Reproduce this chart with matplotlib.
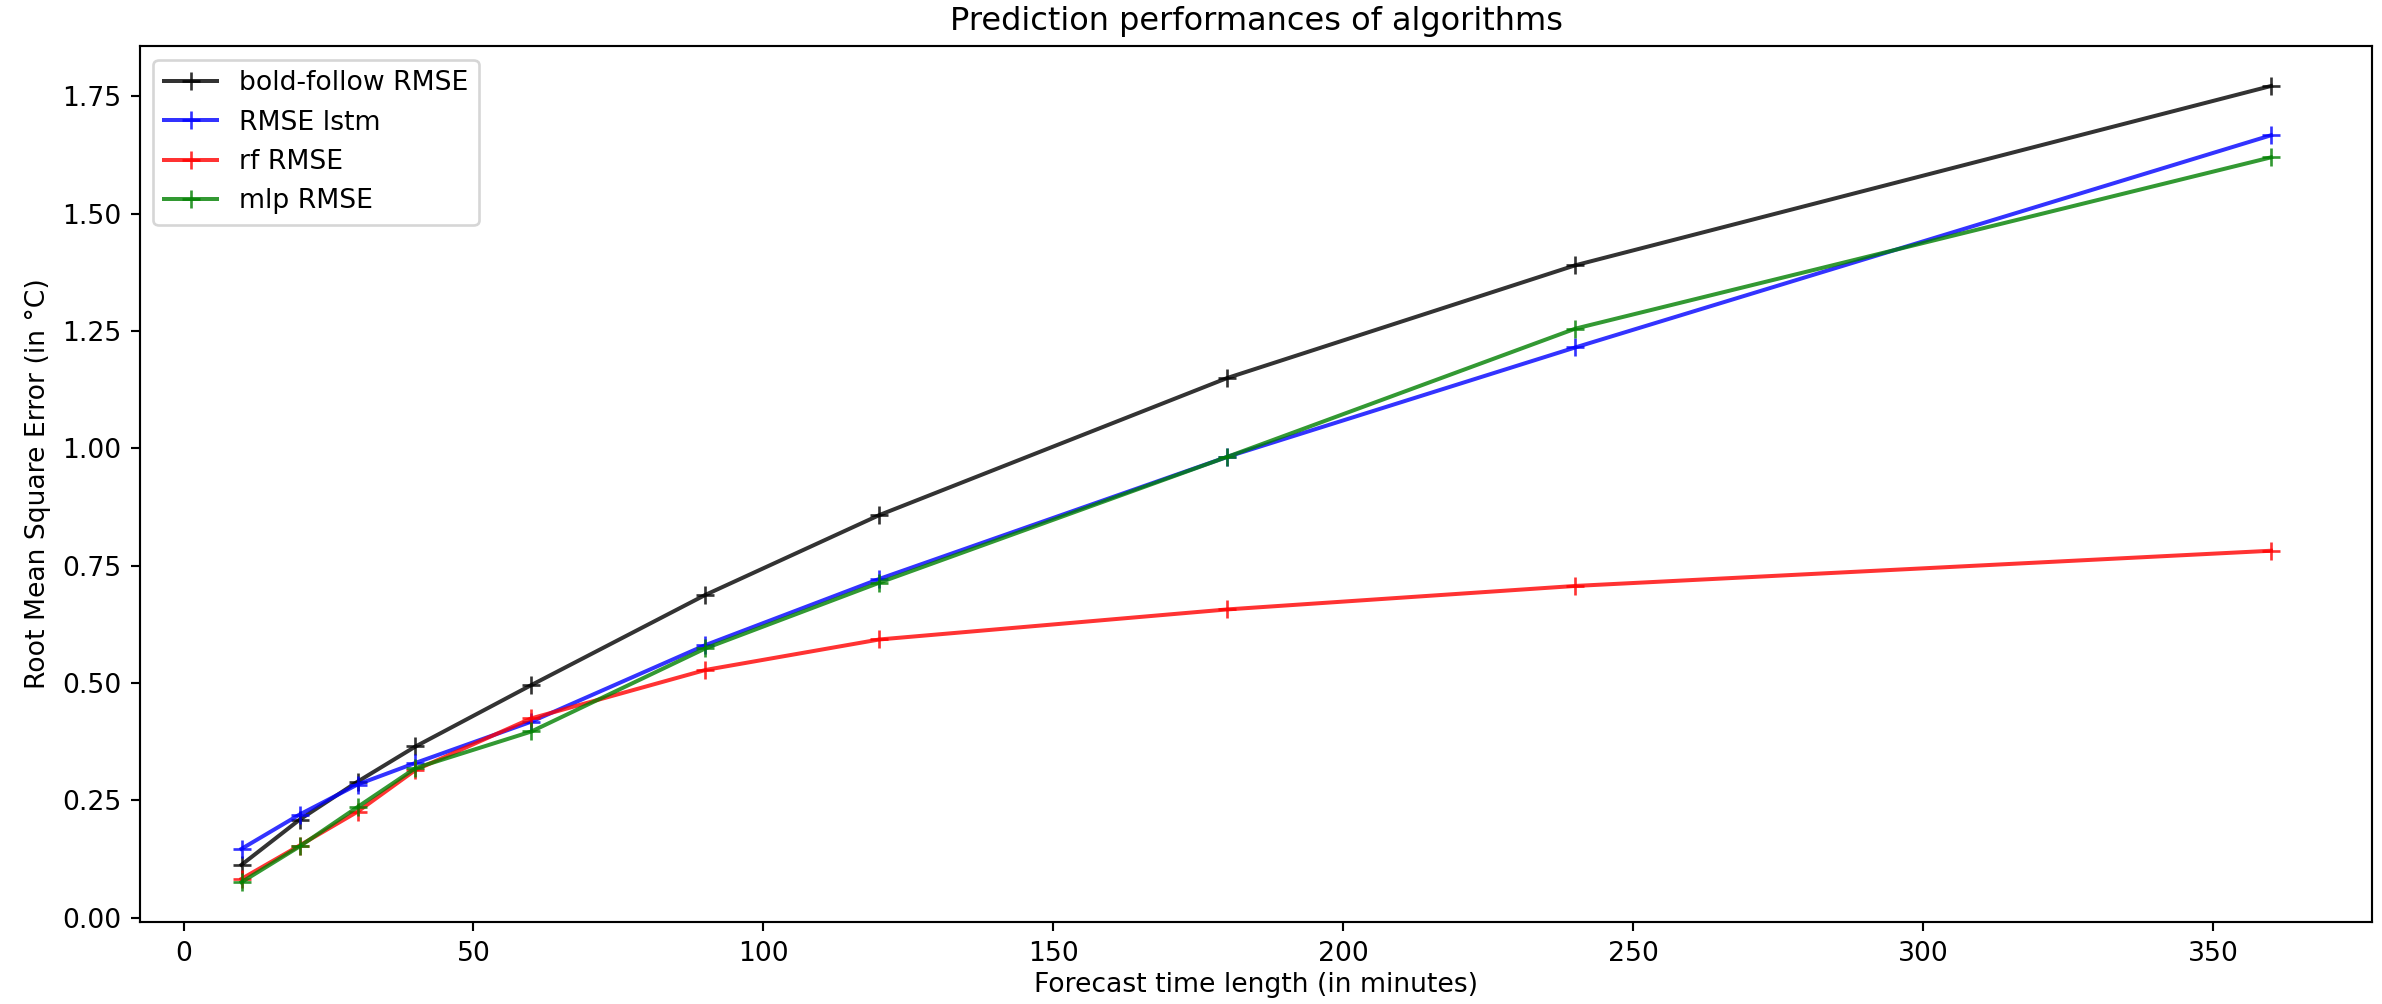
import matplotlib
matplotlib.use("Agg")
import matplotlib.pyplot as plt

horizons = [10, 20, 30, 40, 60, 90, 120, 180, 240, 360]
bold_follow = [0.113, 0.209, 0.290, 0.365, 0.496, 0.688, 0.858, 1.150, 1.390, 1.772]
lstm = [0.147, 0.220, 0.284, 0.330, 0.418, 0.581, 0.722, 0.982, 1.215, 1.667]
rf = [0.083, 0.154, 0.226, 0.315, 0.425, 0.528, 0.593, 0.657, 0.707, 0.782]
mlp = [0.076, 0.152, 0.236, 0.319, 0.397, 0.574, 0.714, 0.982, 1.255, 1.620]

labels = ["bold-follow RMSE", "RMSE lstm", "rf RMSE", "mlp RMSE"]
colors = ["k", "b", "r", "g"]

DPI = 192
fig = plt.figure(figsize=(2382/DPI, 1004/DPI), dpi=DPI)
ax = fig.add_axes([0.0588, 0.0817, 0.9372, 0.8723])
for ys, lab, c in zip([bold_follow, lstm, rf, mlp], labels, colors):
    ax.plot(horizons, ys, color=c, marker="+", markersize=7, linewidth=1.5, alpha=0.8, label=lab)

ax.set_title("Prediction performances of algorithms")
ax.set_xlabel("Forecast time length (in minutes)", labelpad=2)
ax.set_ylabel("Root Mean Square Error (in °C)")
ax.legend(loc="upper left")
fig.savefig("out.png", dpi=DPI)
